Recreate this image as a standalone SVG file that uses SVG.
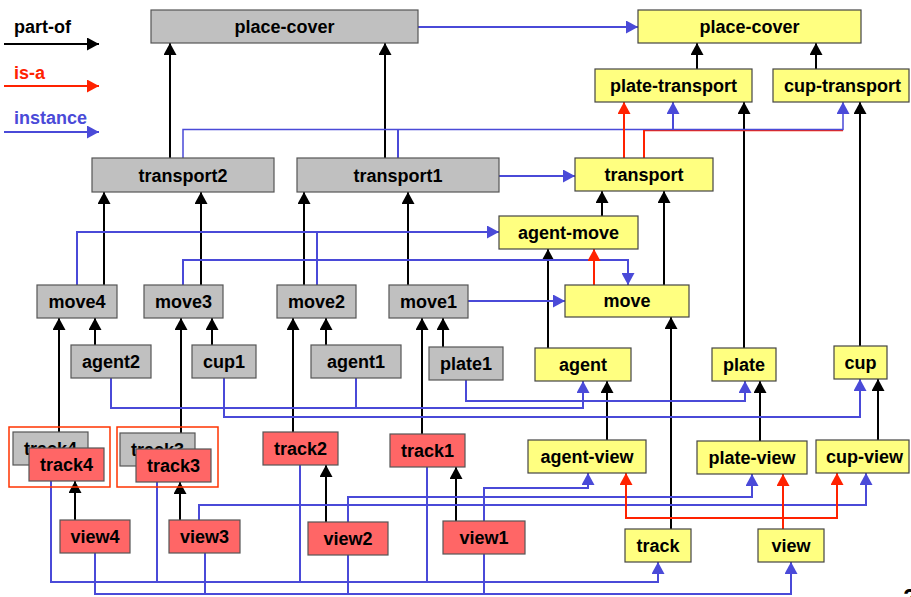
<svg xmlns="http://www.w3.org/2000/svg" width="911" height="597" viewBox="0 0 911 597">
<style>
text{font-family:"Liberation Sans",Arial,Helvetica,sans-serif;font-weight:bold;font-size:18px;text-anchor:middle;fill:#000}
.g{fill:#c0c0c0;stroke:#555;stroke-width:1.2}
.y{fill:#ffff80;stroke:#444;stroke-width:1.2}
.r{fill:#ff6666;stroke:#555;stroke-width:1.2}
.box{fill:none;stroke:#ff3300;stroke-width:1.5}
.k{fill:none;stroke:#000;stroke-width:2}
.ka{fill:none;stroke:#000;stroke-width:2;marker-end:url(#ak)}
.re{fill:none;stroke:#ff2200;stroke-width:2}
.ra{fill:none;stroke:#ff2200;stroke-width:2;marker-end:url(#ar)}
.b{fill:none;stroke:#4a4ad8;stroke-width:2}
.ba{fill:none;stroke:#4a4ad8;stroke-width:2;marker-end:url(#ab)}
.lg{text-anchor:start}
</style>
<defs>
<marker id="ak" markerUnits="userSpaceOnUse" markerWidth="13" markerHeight="13" refX="12" refY="6.5" orient="auto"><path d="M0,0 L12,6.5 L0,13 z" fill="#000"/></marker>
<marker id="ar" markerUnits="userSpaceOnUse" markerWidth="13" markerHeight="13" refX="12" refY="6.5" orient="auto"><path d="M0,0 L12,6.5 L0,13 z" fill="#ff2200"/></marker>
<marker id="ab" markerUnits="userSpaceOnUse" markerWidth="13" markerHeight="13" refX="12" refY="6.5" orient="auto"><path d="M0,0 L12,6.5 L0,13 z" fill="#4a4ad8"/></marker>
</defs>
<rect width="911" height="597" fill="#fff"/>

<g id="legend">
<text class="lg" x="14" y="33">part-of</text>
<path class="ka" d="M4,44 H99"/>
<text class="lg" x="14" y="79" fill="#ff2200" style="fill:#ff2200">is-a</text>
<path class="ra" d="M4,86 H99"/>
<text class="lg" x="14" y="124" style="fill:#4a4ad8">instance</text>
<path class="ba" d="M4,132 H99"/>
</g>

<g id="connectors">
<!-- part-of -->
<path class="ka" d="M170,158 V43"/>
<path class="ka" d="M385,158 V43"/>
<path class="ka" d="M697,69 V43"/>
<path class="ka" d="M816,69 V43"/>
<path class="ka" d="M744,348 V102"/>
<path class="ka" d="M860,346 V102"/>
<path class="ka" d="M104,285 V192"/>
<path class="ka" d="M201,285 V192"/>
<path class="ka" d="M304,285 V192"/>
<path class="ka" d="M408,285 V192"/>
<path class="ka" d="M602,216 V191"/>
<path class="ka" d="M664,285 V191"/>
<path class="ka" d="M548,348 V249"/>
<path class="ka" d="M671,529 V317"/>
<path class="ka" d="M95,345 V318"/>
<path class="ka" d="M212,345 V318"/>
<path class="ka" d="M326,345 V318"/>
<path class="ka" d="M443,347 V318"/>
<path class="ka" d="M59,432 V318"/>
<path class="ka" d="M181,433 V318"/>
<path class="ka" d="M293,432 V318"/>
<path class="ka" d="M422,434 V318"/>
<path class="ka" d="M75,520 V481"/>
<path class="ka" d="M180,520 V482"/>
<path class="ka" d="M326,522 V465"/>
<path class="ka" d="M456,521 V467"/>
<path class="ka" d="M607,440 V381"/>
<path class="ka" d="M760,441 V381"/>
<path class="ka" d="M878,440 V379"/>
<!-- instance -->
<path class="ba" d="M418,27 H638"/>
<path class="ba" d="M499,176 H575"/>
<path class="ba" d="M468,301 H565"/>
<path class="re" d="M644,158 V130.5 H843" style="stroke-width:1.5"/>
<path class="ba" d="M183,158 V129.5 H843 V102" style="stroke-width:1.5"/>
<path class="b" d="M398,158 V130"/>
<path class="ba" d="M673,130 V102"/>
<path class="ba" d="M77,285 V232 H499"/>
<path class="b" d="M317,285 V232"/>
<path class="ba" d="M183,285 V260 H628 V285"/>
<path class="ba" d="M111,378 V408 H583 V381"/>
<path class="b" d="M356,378 V408"/>
<path class="ba" d="M224,378 V417 H860 V379"/>
<path class="ba" d="M466,380 V401 H745 V381"/>
<path class="ba" d="M51,481 V582 H658 V562"/>
<path class="b" d="M157,482 V582"/>
<path class="b" d="M300,465 V582"/>
<path class="b" d="M427,467 V582"/>
<path class="ba" d="M95,553 V594 H791 V562"/>
<path class="b" d="M205,553 V594"/>
<path class="b" d="M348,555 V594"/>
<path class="b" d="M484,554 V594"/>
<path class="ba" d="M199,520 V505 H866 V473"/>
<path class="ba" d="M348,522 V497 H752 V474"/>
<path class="ba" d="M484,521 V488 H588 V473"/>
<!-- is-a -->
<path class="ra" d="M624,158 V102"/>
<path class="re" d="M644,158 V130"/>
<path class="ra" d="M594,285 V249"/>
<path class="ra" d="M783,529 V474"/>
<path class="ra" d="M783,518 H626 V473"/>
<path class="ra" d="M783,518 H837 V473"/>
</g>

<g id="place-cover-g"><rect class="g" x="151" y="10" width="267" height="33"/><text x="284.5" y="33">place-cover</text></g>
<g id="transport2"><rect class="g" x="92" y="158" width="182" height="34"/><text x="183" y="182">transport2</text></g>
<g id="transport1"><rect class="g" x="297" y="158" width="202" height="34"/><text x="398" y="182">transport1</text></g>
<g id="place-cover-y"><rect class="y" x="638" y="10" width="223" height="33"/><text x="749.5" y="33">place-cover</text></g>
<g id="plate-transport"><rect class="y" x="595" y="69" width="157" height="33"/><text x="673.5" y="92">plate-transport</text></g>
<g id="cup-transport"><rect class="y" x="773" y="69" width="136" height="33"/><text x="842.5" y="92">cup-transport</text></g>
<g id="transport"><rect class="y" x="575" y="158" width="138" height="33"/><text x="644" y="181">transport</text></g>
<g id="agent-move"><rect class="y" x="499" y="216" width="139" height="33"/><text x="568.5" y="239">agent-move</text></g>
<g id="move"><rect class="y" x="565" y="285" width="124" height="32"/><text x="627" y="307">move</text></g>
<g id="agent"><rect class="y" x="535" y="348" width="96" height="33"/><text x="583" y="371">agent</text></g>
<g id="plate"><rect class="y" x="712" y="348" width="64" height="33"/><text x="744" y="371">plate</text></g>
<g id="cup"><rect class="y" x="834" y="346" width="53" height="33"/><text x="860.5" y="369">cup</text></g>
<g id="move4"><rect class="g" x="37" y="285" width="80" height="33"/><text x="77" y="308">move4</text></g>
<g id="move3"><rect class="g" x="144" y="285" width="79" height="33"/><text x="183.5" y="308">move3</text></g>
<g id="move2"><rect class="g" x="277" y="285" width="79" height="33"/><text x="316.5" y="308">move2</text></g>
<g id="move1"><rect class="g" x="389" y="285" width="79" height="33"/><text x="428.5" y="308">move1</text></g>
<g id="agent2"><rect class="g" x="71" y="345" width="80" height="33"/><text x="111" y="368">agent2</text></g>
<g id="cup1"><rect class="g" x="192" y="345" width="64" height="33"/><text x="224" y="368">cup1</text></g>
<g id="agent1"><rect class="g" x="311" y="345" width="90" height="33"/><text x="356" y="368">agent1</text></g>
<g id="plate1"><rect class="g" x="429" y="347" width="74" height="33"/><text x="466" y="370">plate1</text></g>
<g id="track4-group"><rect class="box" x="9" y="427" width="101" height="60"/>
<rect class="g" x="13" y="432" width="75" height="33"/><text x="50.5" y="455">track4</text>
<rect class="r" x="29" y="448" width="75" height="33"/><text x="66.5" y="471">track4</text></g>
<g id="track3-group"><rect class="box" x="117" y="427" width="101" height="60"/>
<rect class="g" x="120" y="433" width="75" height="33"/><text x="157.5" y="456">track3</text>
<rect class="r" x="136" y="449" width="75" height="33"/><text x="173.5" y="472">track3</text></g>
<g id="track2"><rect class="r" x="263" y="432" width="75" height="33"/><text x="300.5" y="455">track2</text></g>
<g id="track1"><rect class="r" x="390" y="434" width="75" height="33"/><text x="427.5" y="457">track1</text></g>
<g id="view4"><rect class="r" x="60" y="520" width="70" height="33"/><text x="95" y="543">view4</text></g>
<g id="view3"><rect class="r" x="169" y="520" width="71" height="33"/><text x="204.5" y="543">view3</text></g>
<g id="view2"><rect class="r" x="308" y="522" width="80" height="33"/><text x="348" y="545">view2</text></g>
<g id="view1"><rect class="r" x="443" y="521" width="82" height="33"/><text x="484" y="544">view1</text></g>
<g id="agent-view"><rect class="y" x="528" y="440" width="118" height="33"/><text x="587" y="463">agent-view</text></g>
<g id="plate-view"><rect class="y" x="697" y="441" width="110" height="33"/><text x="752" y="464">plate-view</text></g>
<g id="cup-view"><rect class="y" x="816" y="440" width="93" height="33"/><text x="864.5" y="463">cup-view</text></g>
<g id="track"><rect class="y" x="625" y="529" width="66" height="33"/><text x="658" y="552">track</text></g>
<g id="view"><rect class="y" x="758" y="529" width="66" height="33"/><text x="791" y="552">view</text></g>
<text x="910" y="606" style="font-size:24px">2</text>
</svg>
